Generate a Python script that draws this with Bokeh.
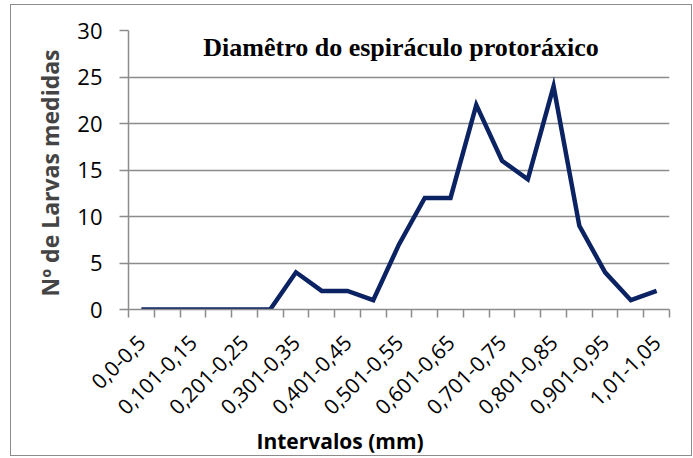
from bokeh.plotting import figure
from bokeh.models import FixedTicker, Range1d, Label, Title
from bokeh.embed import file_html
from bokeh.resources import INLINE
import math

categories = ["0,0-0,5", "0,051-0,10", "0,101-0,15", "0,151-0,20", "0,201-0,25",
              "0,251-0,30", "0,301-0,35", "0,351-0,40", "0,401-0,45", "0,451-0,50",
              "0,501-0,55", "0,551-0,60", "0,601-0,65", "0,651-0,70", "0,701-0,75",
              "0,751-0,80", "0,801-0,85", "0,851-0,90", "0,901-0,95", "0,951-1,00",
              "1,01-1,05"]
counts = [0, 0, 0, 0, 0, 0, 4, 2, 2, 1, 7, 12, 12, 22, 16, 14, 24, 9, 4, 1, 2]
y_ticks = [0, 5, 10, 15, 20, 25, 30]

n = len(categories)
xs = list(range(1, n + 1))

p = figure(width=682, height=452, output_backend="svg", toolbar_location=None,
           x_range=Range1d(0.5, n + 0.5), y_range=Range1d(0, 30),
           min_border_left=117, min_border_right=24, min_border_top=25,
           min_border_bottom=148)
p.styles = {"border": "1px solid #8c8c8c", "margin-left": "10px", "margin-top": "4px",
            "box-sizing": "border-box"}
p.outline_line_color = None
p.background_fill_color = "white"
p.border_fill_color = "white"

p.line(xs, counts, line_color="#0B2362", line_width=4.5, line_join="miter")

# x axis
label_ticks = xs[::2]
p.xaxis.ticker = FixedTicker(ticks=label_ticks,
                             minor_ticks=[i + 0.5 for i in range(0, n + 1)])
p.xaxis.major_label_overrides = {t: categories[t - 1] for t in label_ticks}
p.xaxis.major_label_orientation = math.pi / 4
p.xaxis.major_tick_out = 0
p.xaxis.major_tick_in = 0
p.xaxis.minor_tick_out = 8
p.xaxis.minor_tick_in = 0
p.xaxis.minor_tick_line_color = "#8c8c8c"
p.xaxis.axis_line_color = "#8c8c8c"
p.xaxis.axis_line_width = 1.5
p.xaxis.minor_tick_line_width = 1.5
p.xaxis.major_label_text_font = "Open Sans"
p.xaxis.major_label_text_font_size = "21px"
p.xaxis.major_label_text_color = "black"
p.xaxis.major_label_standoff = 21
p.xaxis.axis_label = None

# x axis title placed below the tick labels, shifted left as in the original
xt = Title(text="Intervalos (mm)", align="left", offset=128,
           text_font="Open Sans", text_font_style="bold", text_font_size="21px",
           text_color="black", standoff=0)
p.add_layout(xt, "below")

# y axis
p.yaxis.ticker = FixedTicker(ticks=y_ticks)
p.yaxis.major_tick_out = 9
p.yaxis.major_tick_in = 0
p.yaxis.minor_tick_out = 0
p.yaxis.minor_tick_in = 0
p.yaxis.major_tick_line_color = "#8c8c8c"
p.yaxis.axis_line_color = "#8c8c8c"
p.yaxis.axis_line_width = 1.5
p.yaxis.major_tick_line_width = 1.5
p.yaxis.major_label_text_font = "Open Sans"
p.yaxis.major_label_text_font_size = "22px"
p.yaxis.major_label_text_color = "black"
p.yaxis.major_label_standoff = 17
p.yaxis.axis_label = "Nº de Larvas  medidas"
p.yaxis.axis_label_text_font = "Open Sans"
p.yaxis.axis_label_text_font_style = "bold"
p.yaxis.axis_label_text_font_size = "23px"
p.yaxis.axis_label_standoff = 8

p.xgrid.grid_line_color = None
p.ygrid.ticker = FixedTicker(ticks=y_ticks)
p.ygrid.grid_line_color = "#8c8c8c"
p.ygrid.grid_line_width = 1.5

title = Label(x=11.08, y=28.2, text="Diamêtro do espiráculo protoráxico",
              text_font="Liberation Serif", text_font_style="bold",
              text_font_size="26px", text_align="center", text_baseline="middle",
              text_color="black")
p.add_layout(title)

open("out.html", "w").write(file_html(p, INLINE))
